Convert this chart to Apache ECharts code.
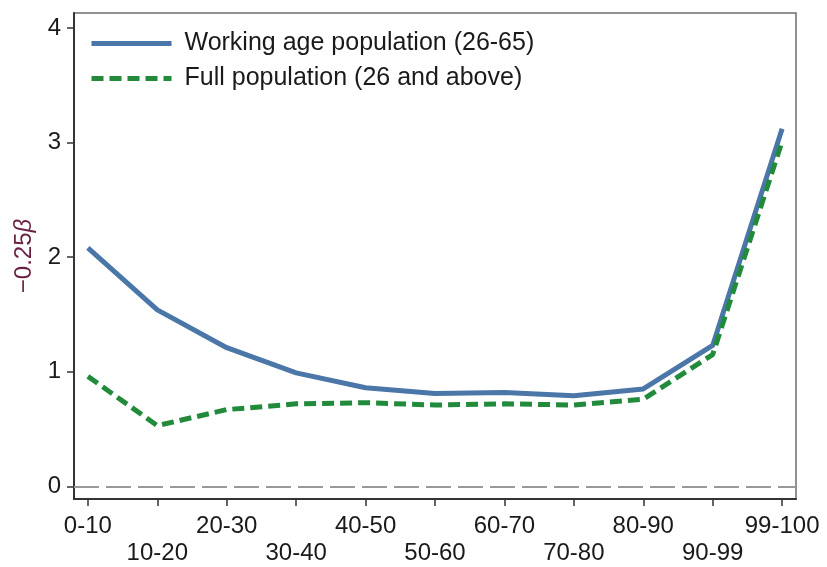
<!DOCTYPE html>
<html>
<head>
<meta charset="utf-8">
<script src="https://cdn.jsdelivr.net/npm/echarts@6/dist/echarts.min.js"></script>
<style>
  html, body { margin: 0; padding: 0; background: #fff; }
  #chart { width: 827px; height: 567px; }
</style>
</head>
<body>
<div id="chart"></div>
<script>
// Income groups (percentile bins) on the x axis
const categories = ['0-10', '10-20', '20-30', '30-40', '40-50', '50-60', '60-70', '70-80', '80-90', '90-99', '99-100'];
// −0.25β estimates by group
const workingAge = [2.08, 1.54, 1.21, 0.99, 0.86, 0.81, 0.82, 0.79, 0.85, 1.23, 3.12];
const fullPopulation = [0.96, 0.53, 0.67, 0.72, 0.73, 0.71, 0.72, 0.71, 0.76, 1.15, 3.01];
const yTicks = [0, 1, 2, 3, 4];

const catIndex = categories.map((_, i) => i);
const toPoints = arr => arr.map((v, i) => [i, v]);

const chart = echarts.init(document.getElementById('chart'), null, { renderer: 'canvas' });

const textColor = '#1a1a1a';
const font = "'Liberation Sans', Arial, sans-serif";
const blue = '#4a76a8';
const green = '#228b3b';
const nameColor = '#6a1f44';

chart.setOption({
  animation: false,
  backgroundColor: '#ffffff',
  textStyle: { fontFamily: font },
  grid: {
    left: 74, right: 31, top: 13, bottom: 68,
    show: true, borderColor: '#6e6e6e', borderWidth: 1.5, backgroundColor: 'transparent'
  },
  legend: {
    left: 89, top: 31, orient: 'vertical', padding: 0,
    itemWidth: 80, itemHeight: 20, itemGap: 10,
    itemStyle: { opacity: 0 },
    textStyle: { fontSize: 25, lineHeight: 20, color: textColor, fontFamily: font, padding: [0, 0, 0, 8] },
    data: [
      { name: 'Working age population (26-65)', lineStyle: { width: 5, color: blue } },
      { name: 'Full population (26 and above)', lineStyle: { width: 5, color: green, type: [12, 6] } }
    ]
  },
  xAxis: {
    type: 'value', min: -0.2, max: 10.2,
    axisLine: { show: true, onZero: false, lineStyle: { color: '#333', width: 2 } },
    axisTick: { show: true, customValues: catIndex, length: 7, lineStyle: { color: '#333', width: 1.5 } },
    splitLine: { show: false },
    axisLabel: {
      customValues: catIndex, margin: 14, fontSize: 24, color: textColor, lineHeight: 27, fontFamily: font,
      formatter: v => (Math.round(v) % 2 === 1 ? '\n' : '') + categories[Math.round(v)]
    }
  },
  yAxis: {
    type: 'value', min: -0.11, max: 4.13,
    name: '{m|−0.25}{b|β}', nameLocation: 'middle', nameGap: 28, nameRotate: 90,
    nameTextStyle: {
      fontFamily: font, fontSize: 24, color: nameColor,
      rich: {
        m: { fontSize: 24, color: nameColor, fontFamily: font },
        b: { fontSize: 24, color: nameColor, fontStyle: 'italic', fontFamily: font }
      }
    },
    axisLine: { show: true, onZero: false, lineStyle: { color: '#333', width: 2 } },
    axisTick: { show: true, customValues: yTicks, length: 7, lineStyle: { color: '#333', width: 1.5 } },
    splitLine: { show: false },
    axisLabel: { customValues: yTicks, margin: 13, fontSize: 24, color: textColor, fontFamily: font }
  },
  series: [
    {
      name: 'Working age population (26-65)', type: 'line',
      data: toPoints(workingAge), symbol: 'none', showSymbol: false,
      lineStyle: { color: blue, width: 5, join: 'round', cap: 'butt' },
      itemStyle: { color: blue },
      z: 3,
      markLine: {
        silent: true, symbol: 'none', label: { show: false },
        lineStyle: { color: '#999', width: 2, type: [25, 7] },
        data: [{ yAxis: 0 }]
      }
    },
    {
      name: 'Full population (26 and above)', type: 'line',
      data: toPoints(fullPopulation), symbol: 'none', showSymbol: false,
      lineStyle: { color: green, width: 5, type: [12, 6] },
      itemStyle: { color: green },
      z: 4
    }
  ]
});
</script>
</body>
</html>
